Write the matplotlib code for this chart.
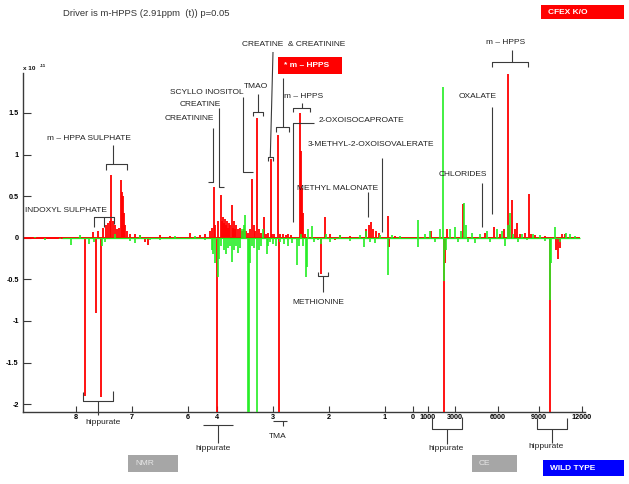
import matplotlib
matplotlib.use('Agg')
import matplotlib.pyplot as plt
from matplotlib.patches import Rectangle

plt.rcParams['font.family'] = ['Liberation Sans', 'DejaVu Sans']
plt.rcParams['axes.unicode_minus'] = False

# ---------------- data ----------------
# composite x axis (NMR ppm segment followed by CE migration-time segment), chart position units
tick_pos = [76, 132, 188, 217, 273, 329, 385, 413, 428, 455, 498, 539, 582]
tick_labels = ['8', '7', '6', '4', '3', '2', '1', '0', '1000', '3000', '6000', '9000', '12000']
ytick_vals = [-2, -1.5, -1, -0.5, 0, 0.5, 1, 1.5]
ytick_labels = ['-2', '-1.5', '-1', '-0.5', '0', '0.5', '1', '1.5']

# CFEX K/O (red) loadings, units of 1e-11
red_pos = [85, 96, 101, 93, 98, 103, 106, 108, 110, 111, 113, 115, 117, 119, 121, 122, 123, 124, 125,
           127, 130, 135, 140, 145, 147.7, 160, 170, 190, 200, 205,
           210, 212, 213.5, 215, 217.3, 218, 220.5, 222, 223, 224, 225, 226, 227, 228, 229, 230, 231.7,
           233, 234, 235, 236, 238, 240, 242, 244, 246, 248, 250, 252.3, 254, 255, 257.3, 259, 261,
           264.3, 266, 268, 270.7, 272, 274, 278, 279.3, 280, 283, 286, 288, 291, 300, 301, 302, 303, 305,
           320.7, 325, 330, 335, 340, 350, 366, 369, 371, 373, 376, 379, 388, 388.5, 395, 400,
           431, 444, 445, 447, 463.3, 485, 493.7, 500, 504, 507.7, 509, 512.3, 515, 517, 520, 525, 529,
           531, 535, 545, 550, 556, 558, 560, 562, 565]
red_val = [-1.90, -0.90, -1.91, 0.07, 0.08, 0.12, 0.15, 0.18, 0.20, 0.755, 0.20, 0.15, 0.10, 0.12, 0.70, 0.55, 0.50, 0.30, 0.15,
           0.08, 0.05, 0.04, 0.03, -0.05, -0.09, 0.03, 0.02, 0.06, 0.03, 0.05,
           0.08, 0.12, 0.61, 0.15, -2.5, 0.20, 0.51, 0.20, 0.25, 0.18, 0.22, 0.15, 0.20, 0.12, 0.18, 0.15, 0.39,
           0.12, 0.20, 0.10, 0.15, 0.10, 0.12, 0.08, 0.10, 0.08, 0.06, 0.10, 0.71, 0.15, 0.08, 1.44, 0.10, 0.06,
           0.25, 0.05, 0.06, 0.95, 0.05, 0.04, 1.24, -2.5, 0.05, 0.05, 0.03, 0.05, 0.03, 1.50, 1.04, 0.60, 0.30, 0.05,
           -0.43, 0.25, 0.05, -0.03, 0.03, 0.02, 0.10, 0.15, 0.19, 0.10, 0.08, 0.06, 0.26, -0.11, 0.02, -0.02,
           0.08, -2.5, -0.30, 0.10, 0.41, 0.06, 0.13, 0.05, 0.10, 1.97, 0.15, 0.45, 0.10, 0.18, 0.05, 0.06, 0.53,
           0.05, 0.03, 0.02, -2.5, -0.15, -0.25, -0.12, 0.05, 0.04]

# WILD TYPE (green) loadings, units of 1e-11
green_pos = [35, 45, 60, 71, 80, 89, 94, 101.7, 105, 115, 130, 135, 140, 150, 160, 175, 185, 195, 205, 211.7,
             213, 215, 217.5, 219, 221, 224, 226, 228, 230, 232.3, 234, 236, 238, 240, 242, 244, 245, 247.5,
             248.5, 250, 252, 254, 257.3, 259, 261, 263, 266.7, 268, 270, 273, 276, 280, 284, 288, 292, 296.7,
             299, 301, 303, 305.7, 306.5, 308, 311.7, 314, 318, 321, 326, 330, 340, 350, 360, 364, 366, 370,
             375, 380, 388.3, 392, 400,
             417.5, 418, 425, 430, 435, 440, 443.3, 444, 446, 450, 455, 458, 461, 464, 466, 468, 472, 475, 480,
             487, 490, 497, 502, 505, 508, 510, 513, 518, 522, 527, 533, 540, 545, 550, 551, 555, 560, 566,
             570, 575]
green_val = [0.01, -0.03, -0.02, -0.09, 0.03, -0.08, -0.05, -0.10, -0.05, 0.04, -0.04, -0.06, 0.03, -0.03, -0.03, 0.02, -0.02, 0.02, -0.03, -0.15,
             -0.20, -0.30, -0.47, -0.25, -0.10, -0.15, -0.20, -0.12, -0.10, -0.29, -0.15, -0.10, -0.18, -0.12, 0.10, 0.15, 0.27, -2.5,
             -2.5, -0.30, -0.10, -0.12, -2.5, -0.15, -0.10, 0.10, -0.19, -0.10, -0.05, -0.08, -0.10, -0.05, -0.08, -0.10, -0.06, -0.33,
             -0.10, 0.05, -0.10, -0.47, -0.35, 0.10, 0.14, -0.05, -0.03, -0.08, 0.05, -0.05, 0.03, -0.04, 0.03, -0.11, 0.08, -0.05,
             -0.06, 0.03, -0.45, 0.03, 0.02,
             0.21, -0.11, 0.05, 0.08, -0.05, 0.10, 1.81, -0.52, -0.15, 0.10, 0.13, -0.05, 0.08, 0.42, 0.15, -0.05, 0.06, -0.06, 0.05,
             0.08, -0.05, 0.10, 0.08, -0.10, 0.15, 0.30, 0.05, -0.05, 0.04, -0.03, 0.05, 0.03, -0.04, -0.75, -0.30, 0.13, -0.05, 0.06,
             0.04, 0.02]

red_base = [23, 580]
green_base = [62, 580]

RED = '#ff0000'
GREEN = '#22ee22'
INK = '#3a3a3a'

# ---------------- figure ----------------
fig = plt.figure(figsize=(6.29, 4.84), dpi=100)
W, H = 629, 484
ax_l, ax_r, ax_t, ax_b = 23, 585, 73, 411.7
ax = fig.add_axes([ax_l / W, (H - ax_b) / H, (ax_r - ax_l) / W, (ax_b - ax_t) / H])

ax.hlines(0, red_base[0], red_base[1], color=RED, lw=1.4, zorder=2)
ax.vlines(red_pos, 0, red_val, color=RED, lw=1.3, zorder=3)
ax.hlines(0, green_base[0], green_base[1], color=GREEN, lw=0.9, zorder=4)
ax.vlines(green_pos, 0, green_val, color=GREEN, lw=1.2, zorder=5)

ax.set_xlim(ax_l, ax_r)
ax.set_ylim(-2.09, 1.98)
ax.set_xticks(tick_pos)
ax.set_xticklabels(tick_labels, fontsize=5.2, fontweight='bold')
ax.set_yticks(ytick_vals)
ax.set_yticklabels(ytick_labels, fontsize=5.2, fontweight='bold')
ax.tick_params(axis='y', direction='in', length=6, width=0.8, color=INK, pad=3)
ax.tick_params(axis='x', direction='in', length=4, width=0.8, color=INK, pad=1.5)
for s in ['top', 'right']:
    ax.spines[s].set_visible(False)
for s in ['left', 'bottom']:
    ax.spines[s].set_color(INK)
    ax.spines[s].set_linewidth(1.0)

# ---------------- overlay for annotations (pixel coords) ----------------
ov = fig.add_axes([0, 0, 1, 1])
ov.set_xlim(0, W)
ov.set_ylim(H, 0)
ov.axis('off')


def line(xs, ys):
    ov.plot(xs, ys, color=INK, lw=0.8, solid_capstyle='butt')


def txt(x, y, s, size=6, **kw):
    kw.setdefault('color', '#222222')
    ov.text(x, y, s, fontsize=size, ha='left', va='center', **kw)


def box(x0, y0, x1, y1, fc, label, tc, bold=False, tx=7):
    ov.add_patch(Rectangle((x0, y0), x1 - x0, y1 - y0, fc=fc, ec='none'))
    ov.text(x0 + tx, (y0 + y1) / 2, label, fontsize=6, color=tc, ha='left', va='center',
            fontweight='bold' if bold else 'normal')


txt(63, 13, 'Driver is m-HPPS (2.91ppm  (t)) p=0.05', size=6.8, color='#333333')
box(541, 5, 624, 19, RED, 'CFEX K/O', 'white', bold=True)

ov.text(23, 69, 'x 10', fontsize=4.6, fontweight='bold', ha='left', va='center', color='#111111')
ov.text(39.5, 66, '-11', fontsize=3.2, fontweight='bold', ha='left', va='center', color='#111111')

# labels + leaders
txt(242, 44, 'CREATINE  & CREATININE')
line([273, 270.3], [52, 157])
line([268, 268, 272.5, 272.5], [161, 157, 157, 161])

box(278, 57, 342, 74, RED, '* m \u2013 HPPS', 'white', bold=True, tx=6)
line([283, 283], [78, 127])
line([276, 276, 289, 289], [132, 127, 127, 132])

txt(244, 86, 'TMAO')
line([257.5, 257.5], [94, 112])
line([253, 253, 262.5, 262.5], [116, 112, 112, 116])

txt(170, 93, 'SCYLLO INOSITOL')
line([243.3, 243.3, 253], [97, 171.5, 171.5])

txt(180, 104, 'CREATINE')
line([218.7, 218.7, 223.5], [108, 187, 187])

txt(165, 118, 'CREATININE')
line([213.3, 213.3, 208.3], [128, 181.7, 181.7])

txt(284, 96, 'm \u2013 HPPS')
line([302, 302], [103, 108])
line([293, 293, 309.5, 309.5], [112, 108, 108, 112])

txt(319, 121, '2-OXOISOCAPROATE')
line([314, 292.5, 292.5], [122.5, 122.5, 221.7])

txt(308, 145, '3-METHYL-2-OXOISOVALERATE')
line([382.3, 382.3], [157.7, 231.7])

txt(297, 189, 'METHYL MALONATE')
line([367.7, 367.7], [192.3, 216.7])

txt(439, 175, 'CHLORIDES')
line([482.3, 482.3], [182.7, 226.7])

txt(459, 96, 'OXALATE')
line([492.3, 492.3], [106.7, 214.3])

txt(486, 43, 'm \u2013 HPPS')
line([511.7, 511.7], [50, 61.7])
line([492.3, 492.3, 527.7, 527.7], [66.7, 61.7, 61.7, 66.7])

txt(47, 138, 'm \u2013 HPPA SULPHATE')
line([113.3, 113.3], [145, 164.3])
line([106, 106, 126.7, 126.7], [170, 164.3, 164.3, 170])

txt(25, 210, 'INDOXYL SULPHATE')
line([94, 94, 114, 114], [226.7, 216.7, 216.7, 224])
line([104, 104], [216.7, 226.7])

txt(292, 303, 'METHIONINE')
line([318.3, 318.3, 327.7, 327.7], [272.3, 276, 276, 272.3])
line([322.7, 322.7], [276, 291.7])

txt(85, 422, 'hippurate')
line([83.3, 83.3, 113.3, 113.3], [392, 401, 401, 391])
line([98.3, 98.3], [401, 415])

txt(195, 449, 'hippurate')
line([202.7, 233.3], [425, 425])
line([218.3, 218.3], [425, 443.3])

txt(269, 437, 'TMA')
line([273.3, 287.3], [421, 421])
line([282.7, 282.7], [421, 425.7])

txt(428, 449, 'hippurate')
line([432.3, 432.3, 462.3, 462.3], [416.7, 429, 429, 416.7])
line([447.3, 447.3], [429, 444])

txt(528, 447, 'hippurate')
line([537.3, 537.3, 566.7, 566.7], [418.3, 429, 429, 418.3])
line([551.7, 551.7], [429, 443.3])

box(128, 455, 178, 471.7, '#a6a6a6', 'NMR', '#e6e6e6')
box(472, 455, 517, 471.7, '#a6a6a6', 'CE', '#e6e6e6')
box(543, 460, 624, 476, '#0000ff', 'WILD TYPE', 'white', bold=True)

fig.savefig('out.png', dpi=100)
